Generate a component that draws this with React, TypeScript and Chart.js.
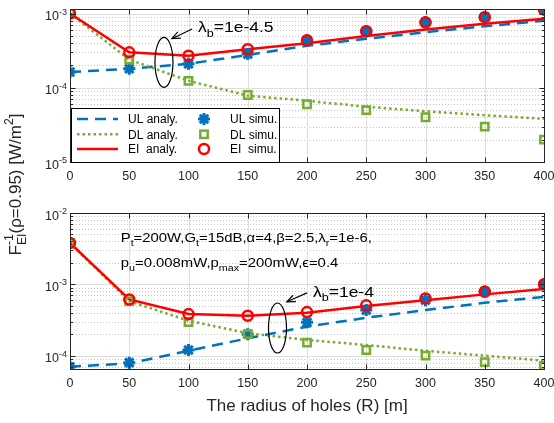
import React, { useEffect, useRef } from "react";
import { Chart, registerables } from "chart.js";
Chart.register(...registerables);

const W = 554;
const H = 423;
const FONT = '"Liberation Sans", Arial, Helvetica, sans-serif';
const BLUE = "#0072BD";
const GREEN = "#77AC30";
const RED = "#FF0000";
const AXIS = "#262626";

// ---------- data ----------
const holeRadius = [0, 50, 100, 150, 200, 250, 300, 350, 400];
const xTickValues = [0, 50, 100, 150, 200, 250, 300, 350, 400];

// top panel (lambda_b = 1e-4.5)
const topULAnaly = [1.63e-4, 1.8e-4, 2.1e-4, 2.77e-4, 3.67e-4, 4.57e-4, 5.61e-4, 6.73e-4, 7.99e-4];
const topDLAnaly = [1.0e-3, 2.4e-4, 1.24e-4, 7.84e-5, 6.67e-5, 5.56e-5, 4.82e-5, 4.27e-5, 3.81e-5];
const topEIAnaly = [1.0e-3, 3.0e-4, 2.7e-4, 3.3e-4, 3.97e-4, 4.97e-4, 6.07e-4, 7.29e-4, 8.49e-4];
const topULSimu = [1.63e-4, 1.8e-4, 2.1e-4, 2.84e-4, 4.35e-4, 5.78e-4, 7.6e-4, 8.93e-4, 1.13e-3];
const topDLSimu = [1.0e-3, 2.39e-4, 1.24e-4, 8.0e-5, 6.0e-5, 5.0e-5, 4.0e-5, 3.0e-5, 2.0e-5];
const topEISimu = [1.0e-3, 3.0e-4, 2.7e-4, 3.3e-4, 4.35e-4, 5.78e-4, 7.6e-4, 8.93e-4, 1.13e-3];
const topYMin = 1e-5;
const topYMax = 1.15e-3;
const topYMajors = [1e-5, 1e-4, 1e-3];
const topYExps = ["-5", "-4", "-3"];
const topLambda = "1e-4.5";

// bottom panel (lambda_b = 1e-4)
const botULAnaly = [7.0e-5, 7.8e-5, 1.17e-4, 1.75e-4, 2.55e-4, 3.4e-4, 4.35e-4, 5.51e-4, 6.68e-4];
const botDLAnaly = [3.8e-3, 5.8e-4, 3.09e-4, 2.06e-4, 1.66e-4, 1.41e-4, 1.17e-4, 1.0e-4, 8.5e-5];
const botEIAnaly = [3.8e-3, 6.15e-4, 3.83e-4, 3.63e-4, 3.99e-4, 4.96e-4, 6.0e-4, 7.23e-4, 8.57e-4];
const botULSimu = [7.0e-5, 7.98e-5, 1.2e-4, 2.0e-4, 2.93e-4, 4.35e-4, 6.0e-4, 8.0e-4, 1.0e-3];
const botDLSimu = [3.8e-3, 5.82e-4, 2.96e-4, 2.0e-4, 1.52e-4, 1.2e-4, 1.0e-4, 8.1e-5, 7.2e-5];
const botEISimu = [3.8e-3, 6.15e-4, 3.83e-4, 3.63e-4, 4.08e-4, 5.07e-4, 6.35e-4, 7.85e-4, 1.0e-3];
const botYMin = 6.5e-5;
const botYMax = 1e-2;
const botYMajors = [1e-4, 1e-3, 1e-2];
const botYExps = ["-4", "-3", "-2"];
const botLambda = "1e-4";

const legendAnaly = ["UL analy.", "DL analy.", "EI  analy."];
const legendSimu = ["UL simu.", "DL simu.", "EI  simu."];
const xTitle = "The radius of holes (R) [m]";

type Seg = { t: string; s?: "sub" | "sup"; sup?: string };

const paramLine1: Seg[] = [
  { t: "P" }, { t: "t", s: "sub" }, { t: "=200W,G" }, { t: "t", s: "sub" },
  { t: "=15dB,α=4,β=2.5,λ" }, { t: "r", s: "sub" }, { t: "=1e-6," },
];
const paramLine2: Seg[] = [
  { t: "p" }, { t: "u", s: "sub" }, { t: "=0.008mW,p" }, { t: "max", s: "sub" },
  { t: "=200mW,ϵ=0.4" },
];
const yTitleSegs: Seg[] = [
  { t: "F" }, { t: "EI", s: "sub", sup: "-1" }, { t: "(ρ=0.95) [W/m" }, { t: "2", s: "sup" }, { t: "]" },
];

interface Panel {
  ulA: number[]; dlA: number[]; eiA: number[];
  ulS: number[]; dlS: number[]; eiS: number[];
  yMin: number; yMax: number; majors: number[]; exps: string[];
  top: number; bottom: number;
  lambda: string;
  ellipse: [number, number];
  arrowHead: [number, number];
  arrowTail: [number, number];
  lambdaAt: [number, number];
  legend: boolean; params: boolean; titles: boolean;
}

const TOP: Panel = {
  ulA: topULAnaly, dlA: topDLAnaly, eiA: topEIAnaly,
  ulS: topULSimu, dlS: topDLSimu, eiS: topEISimu,
  yMin: topYMin, yMax: topYMax, majors: topYMajors, exps: topYExps,
  top: 6, bottom: 162,
  lambda: topLambda,
  ellipse: [79.3, 2.2e-4], arrowHead: [86, 4.58e-4], arrowTail: [103, 6.2e-4], lambdaAt: [108, 5.58e-4],
  legend: true, params: false, titles: false,
};
const BOT: Panel = {
  ulA: botULAnaly, dlA: botDLAnaly, eiA: botEIAnaly,
  ulS: botULSimu, dlS: botDLSimu, eiS: botEISimu,
  yMin: botYMin, yMax: botYMax, majors: botYMajors, exps: botYExps,
  top: 213, bottom: 369,
  lambda: botLambda,
  ellipse: [175.1, 2.44e-4], arrowHead: [183, 5.69e-4], arrowTail: [200, 7.6e-4], lambdaAt: [205, 6.68e-4],
  legend: false, params: true, titles: true,
};

// ---------- drawing helpers ----------
function drawRich(
  ctx: CanvasRenderingContext2D, segs: Seg[], x: number, y: number, size: number,
  align: "left" | "center" | "right", sx = 1, color = "#000"
) {
  const small = size * 0.72;
  const f = (s: number) => `${s}px ${FONT}`;
  const widths = segs.map((seg) => {
    if (!seg.s) { ctx.font = f(size); return ctx.measureText(seg.t).width; }
    ctx.font = f(small);
    let w = ctx.measureText(seg.t).width;
    if (seg.sup) w = Math.max(w, ctx.measureText(seg.sup).width);
    return w;
  });
  const total = widths.reduce((a, b) => a + b, 0) * sx;
  const x0 = align === "left" ? x : align === "center" ? x - total / 2 : x - total;
  ctx.save();
  ctx.translate(x0, y);
  ctx.scale(sx, 1);
  ctx.fillStyle = color;
  ctx.textBaseline = "alphabetic";
  ctx.textAlign = "left";
  let cx = 0;
  segs.forEach((seg, i) => {
    if (!seg.s) {
      ctx.font = f(size);
      ctx.fillText(seg.t, cx, 0);
    } else if (seg.s === "sub") {
      ctx.font = f(small);
      ctx.fillText(seg.t, cx, size * 0.3);
      if (seg.sup) ctx.fillText(seg.sup, cx, -size * 0.45);
    } else {
      ctx.font = f(small);
      ctx.fillText(seg.t, cx, -size * 0.45);
    }
    cx += widths[i];
  });
  ctx.restore();
}

function drawMarker(ctx: CanvasRenderingContext2D, kind: string, x: number, y: number) {
  ctx.save();
  ctx.setLineDash([]);
  ctx.lineWidth = 2.5;
  if (kind === "star") {
    ctx.strokeStyle = BLUE;
    ctx.lineWidth = 3;
    const r = 6;
    ctx.beginPath();
    for (let k = 0; k < 4; k++) {
      const a = (k * Math.PI) / 4;
      ctx.moveTo(x - r * Math.cos(a), y - r * Math.sin(a));
      ctx.lineTo(x + r * Math.cos(a), y + r * Math.sin(a));
    }
    ctx.stroke();
  } else if (kind === "rect") {
    ctx.strokeStyle = GREEN;
    const s = 5.2 * Math.SQRT1_2;
    ctx.strokeRect(x - s, y - s, 2 * s, 2 * s);
  } else {
    ctx.strokeStyle = RED;
    ctx.beginPath();
    ctx.arc(x, y, 5, 0, Math.PI * 2);
    ctx.stroke();
  }
  ctx.restore();
}

function panelPlugin(p: Panel) {
  return {
    id: "panelDecor",
    beforeDatasetsDraw(chart: any) {
      const { ctx, chartArea: a, scales } = chart;
      const xs = scales.x, ys = scales.y;
      ctx.save();
      ctx.beginPath();
      ctx.rect(a.left, a.top, a.right - a.left, a.bottom - a.top);
      ctx.clip();
      ctx.lineWidth = 1;
      // minor y grid (dotted)
      ctx.strokeStyle = "#c4c4c4";
      ctx.setLineDash([1, 2]);
      const d0 = Math.floor(Math.log10(p.yMin));
      const d1 = Math.ceil(Math.log10(p.yMax));
      for (let d = d0; d <= d1; d++) {
        for (let m = 2; m <= 9; m++) {
          const v = m * Math.pow(10, d);
          if (v <= p.yMin || v >= p.yMax) continue;
          const py = Math.round(ys.getPixelForValue(v)) + 0.5;
          ctx.beginPath(); ctx.moveTo(a.left, py); ctx.lineTo(a.right, py); ctx.stroke();
        }
      }
      ctx.setLineDash([]);
      ctx.strokeStyle = "#dedede";
      p.majors.forEach((v) => {
        const py = Math.round(ys.getPixelForValue(v)) + 0.5;
        ctx.beginPath(); ctx.moveTo(a.left, py); ctx.lineTo(a.right, py); ctx.stroke();
      });
      xTickValues.forEach((v) => {
        const px = Math.round(xs.getPixelForValue(v)) + 0.5;
        ctx.beginPath(); ctx.moveTo(px, a.top); ctx.lineTo(px, a.bottom); ctx.stroke();
      });
      ctx.restore();
    },
    afterDatasetsDraw(chart: any) {
      const { ctx, chartArea: a, scales } = chart;
      const xs = scales.x, ys = scales.y;
      ctx.save();
      // box
      ctx.strokeStyle = AXIS;
      ctx.lineWidth = 1;
      ctx.setLineDash([]);
      const L = Math.round(a.left) + 0.5, R = Math.round(a.right) + 0.5;
      const T = Math.round(a.top) + 0.5, B = Math.round(a.bottom) + 0.5;
      ctx.strokeRect(L, T, R - L, B - T);
      // ticks
      ctx.beginPath();
      xTickValues.forEach((v) => {
        const px = Math.round(xs.getPixelForValue(v)) + 0.5;
        ctx.moveTo(px, B); ctx.lineTo(px, B - 5);
        ctx.moveTo(px, T); ctx.lineTo(px, T + 5);
      });
      const d0 = Math.floor(Math.log10(p.yMin));
      const d1 = Math.ceil(Math.log10(p.yMax));
      for (let d = d0; d <= d1; d++) {
        for (let m = 1; m <= 9; m++) {
          const v = m * Math.pow(10, d);
          if (v < p.yMin * 0.999 || v > p.yMax * 1.001) continue;
          const len = m === 1 ? 5 : 2.5;
          const py = Math.round(ys.getPixelForValue(v)) + 0.5;
          ctx.moveTo(L, py); ctx.lineTo(L + len, py);
          ctx.moveTo(R, py); ctx.lineTo(R - len, py);
        }
      }
      ctx.stroke();

      // x tick labels
      ctx.fillStyle = AXIS;
      ctx.font = `12.5px ${FONT}`;
      ctx.textAlign = "center";
      ctx.textBaseline = "middle";
      xTickValues.forEach((v) => {
        ctx.fillText(String(v), xs.getPixelForValue(v), a.bottom + 15);
      });
      // y tick labels
      p.majors.forEach((v, i) => {
        const py = ys.getPixelForValue(v);
        drawRich(ctx, [{ t: "10" }, { t: p.exps[i], s: "sup" }], 67, py + 6.7, 12.5, "right", 1, AXIS);
      });

      // legend
      if (p.legend) {
        const x0 = a.left + 1, y0 = 108, x1 = 279, y1 = a.bottom;
        ctx.fillStyle = "#fff";
        ctx.fillRect(x0, y0, x1 - x0, y1 - y0);
        ctx.strokeStyle = "#000";
        ctx.lineWidth = 1;
        ctx.strokeRect(Math.round(x0) + 0.5, Math.round(y0) + 0.5, Math.round(x1 - x0), Math.round(y1 - y0));
        const rows = [119, 134.3, 149];
        const lineStyles = [
          { c: BLUE, dash: [11, 7] },
          { c: GREEN, dash: [2.5, 3] },
          { c: RED, dash: [] as number[] },
        ];
        const markers = ["star", "rect", "circle"];
        rows.forEach((ry, i) => {
          ctx.save();
          ctx.strokeStyle = lineStyles[i].c;
          ctx.lineWidth = 2.5;
          ctx.setLineDash(lineStyles[i].dash);
          ctx.beginPath(); ctx.moveTo(77, ry); ctx.lineTo(118, ry); ctx.stroke();
          ctx.restore();
          drawMarker(ctx, markers[i], 204, ry);
          drawRich(ctx, [{ t: legendAnaly[i] }], 128, ry + 4.3, 12, "left", 1, "#000");
          drawRich(ctx, [{ t: legendSimu[i] }], 230, ry + 4.3, 12, "left", 1, "#000");
        });
      }

      // annotation: ellipse + arrow + lambda text
      ctx.strokeStyle = "#000";
      ctx.lineWidth = 1.2;
      ctx.setLineDash([]);
      const ex = xs.getPixelForValue(p.ellipse[0]);
      const ey = ys.getPixelForValue(p.ellipse[1]);
      ctx.beginPath();
      ctx.ellipse(ex, ey, 9, 25, 0, 0, Math.PI * 2);
      ctx.stroke();
      const hx = xs.getPixelForValue(p.arrowHead[0]);
      const hy = ys.getPixelForValue(p.arrowHead[1]);
      const tx = xs.getPixelForValue(p.arrowTail[0]);
      const ty = ys.getPixelForValue(p.arrowTail[1]);
      const ang = Math.atan2(hy - ty, hx - tx);
      ctx.beginPath();
      ctx.moveTo(tx, ty); ctx.lineTo(hx, hy);
      ctx.stroke();
      ctx.beginPath();
      ctx.moveTo(hx - 9 * Math.cos(ang - 0.4), hy - 9 * Math.sin(ang - 0.4));
      ctx.lineTo(hx, hy);
      ctx.lineTo(hx - 9 * Math.cos(ang + 0.4), hy - 9 * Math.sin(ang + 0.4));
      ctx.stroke();
      drawRich(
        ctx, [{ t: "λ" }, { t: "b", s: "sub" }, { t: "=" + p.lambda }],
        xs.getPixelForValue(p.lambdaAt[0]), ys.getPixelForValue(p.lambdaAt[1]), 14, "left", 1.25, "#000"
      );

      if (p.params) {
        drawRich(ctx, paramLine1, xs.getPixelForValue(42.8), ys.getPixelForValue(3.93e-3), 12.5, "left", 1.19, "#000");
        drawRich(ctx, paramLine2, xs.getPixelForValue(42.8), ys.getPixelForValue(1.74e-3), 12.5, "left", 1.19, "#000");
      }

      if (p.titles) {
        drawRich(ctx, [{ t: xTitle }], (a.left + a.right) / 2, 411, 17, "center", 1, AXIS);
        ctx.save();
        ctx.translate(21, 184.5);
        ctx.rotate(-Math.PI / 2);
        drawRich(ctx, yTitleSegs, 0, 0, 17, "center", 1, AXIS);
        ctx.restore();
      }
      ctx.restore();
    },
  };
}

function makeChart(canvas: HTMLCanvasElement, p: Panel) {
  const pts = (arr: number[]) => holeRadius.map((x, i) => ({ x, y: arr[i] }));
  return new Chart(canvas, {
    type: "line",
    data: {
      datasets: [
        { label: "UL analy.", data: pts(p.ulA), borderColor: BLUE, borderWidth: 2.5, borderDash: [11, 7], pointRadius: 0, tension: 0, fill: false, order: 6 },
        { label: "DL analy.", data: pts(p.dlA), borderColor: GREEN, borderWidth: 2.5, borderDash: [2.5, 3], pointRadius: 0, tension: 0, fill: false, order: 5 },
        { label: "EI analy.", data: pts(p.eiA), borderColor: RED, borderWidth: 2.5, pointRadius: 0, tension: 0, fill: false, order: 4 },
        { label: "UL simu.", data: pts(p.ulS), showLine: false, pointStyle: "star", pointRadius: 6, pointBorderWidth: 3, pointBorderColor: BLUE, pointBackgroundColor: BLUE, borderColor: BLUE, order: 3 },
        { label: "DL simu.", data: pts(p.dlS), showLine: false, pointStyle: "rect", pointRadius: 5.2, pointBorderWidth: 2.5, pointBorderColor: GREEN, pointBackgroundColor: "rgba(0,0,0,0)", borderColor: GREEN, order: 2 },
        { label: "EI simu.", data: pts(p.eiS), showLine: false, pointStyle: "circle", pointRadius: 5, pointBorderWidth: 2.5, pointBorderColor: RED, pointBackgroundColor: "rgba(0,0,0,0)", borderColor: RED, order: 1 },
      ] as any,
    },
    options: {
      responsive: false,
      animation: false,
      events: [],
      layout: { padding: { left: 70, right: W - 544, top: p.top, bottom: H - p.bottom } },
      scales: {
        x: { type: "linear", min: 0, max: 400, display: false },
        y: { type: "logarithmic", min: p.yMin, max: p.yMax, display: false },
      },
      plugins: { legend: { display: false }, tooltip: { enabled: false } },
    } as any,
    plugins: [panelPlugin(p)],
  });
}

export default function App() {
  const topRef = useRef<HTMLCanvasElement>(null);
  const botRef = useRef<HTMLCanvasElement>(null);
  useEffect(() => {
    const c1 = makeChart(topRef.current as HTMLCanvasElement, TOP);
    const c2 = makeChart(botRef.current as HTMLCanvasElement, BOT);
    return () => {
      c1.destroy();
      c2.destroy();
    };
  }, []);
  return (
    <div style={{ position: "absolute", left: 0, top: 0, width: W, height: H, background: "#fff" }}>
      <canvas ref={topRef} width={W} height={H} style={{ position: "absolute", left: 0, top: 0 }} />
      <canvas ref={botRef} width={W} height={H} style={{ position: "absolute", left: 0, top: 0 }} />
    </div>
  );
}
